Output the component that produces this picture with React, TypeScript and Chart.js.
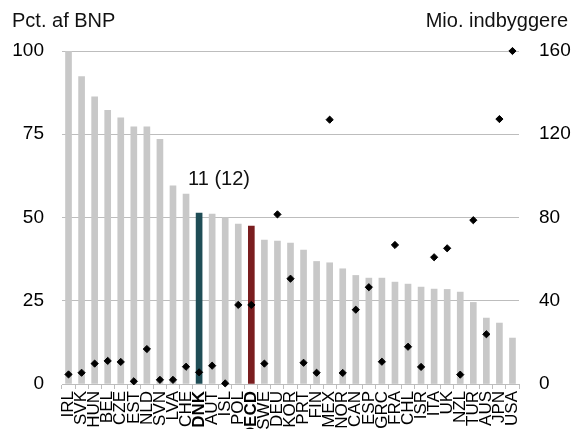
import React, { useEffect, useRef } from "react";
import { Chart, registerables } from "chart.js";

Chart.register(...registerables);

const categories = ["IRL","SVK","HUN","BEL","CZE","EST","NLD","SVN","LVA","CHE","DNK","AUT","ISL","POL","OECD","SWE","DEU","KOR","PRT","FIN","MEX","NOR","CAN","ESP","GRC","FRA","CHL","ISR","ITA","UK","NZL","TUR","AUS","JPN","USA"];
const shareOfGdp = [100, 92.3, 86.2, 82.2, 79.9, 77.2, 77.2, 73.5, 59.5, 57.0, 51.3, 51.0, 50.0, 48.0, 47.4, 43.2, 42.9, 42.3, 40.2, 36.8, 36.4, 34.6, 32.6, 31.8, 31.8, 30.6, 30.0, 29.1, 28.5, 28.4, 27.6, 24.5, 19.8, 18.3, 13.8];
const populationMio = [4.6, 5.4, 9.8, 11.1, 10.6, 1.3, 16.8, 2.0, 2.0, 8.3, 5.6, 8.8, 0.3, 38, 38, 9.8, 81.5, 50.6, 10.2, 5.4, 127, 5.3, 35.7, 46.5, 10.7, 66.8, 17.9, 8.2, 60.9, 65.2, 4.5, 78.7, 23.9, 127.3, 160];
const leftTitle = "Pct. af BNP";
const rightTitle = "Mio. indbyggere";
const dnkNote = "11 (12)";
const boldLabels = ["DNK", "OECD"];

const FONT = "'Liberation Sans', Arial, sans-serif";
const GRAY = "#c8c8c8";
const TEAL = "#1f4d56";
const RED = "#7a1d1f";
const GRID = "#bdbdbd";

export default function App() {
  const ref = useRef<HTMLCanvasElement>(null);
  useEffect(() => {
    const canvas = ref.current!;
    const textPlugin = {
      id: "texts",
      afterDatasetsDraw(chart: any) {
        const ctx = chart.ctx;
        ctx.save();
        ctx.fillStyle = "#111";
        ctx.font = `20px ${FONT}`;
        ctx.textBaseline = "alphabetic";
        ctx.textAlign = "left";
        ctx.fillText(leftTitle, 12, 27);
        ctx.textAlign = "right";
        ctx.fillText(rightTitle, 568, 27);
        const i = categories.indexOf("DNK");
        const x = chart.scales.x.getPixelForValue(i);
        const y = chart.scales.y.getPixelForValue(shareOfGdp[i]);
        ctx.textAlign = "left";
        ctx.fillText(dnkNote, x - 11, y - 28);
        ctx.restore();
      },
    };
    const chart = new Chart(canvas, {
      type: "bar",
      data: {
        labels: categories,
        datasets: [
          {
            type: "line",
            data: populationMio,
            yAxisID: "y2",
            showLine: false,
            pointStyle: "rectRot",
            pointRadius: 3.6,
            pointBorderWidth: 1,
            pointBackgroundColor: "#000",
            pointBorderColor: "#000",
            clip: false,
            order: 0,
          } as any,
          {
            type: "bar",
            data: shareOfGdp,
            yAxisID: "y",
            backgroundColor: categories.map((c) => (c === "DNK" ? TEAL : c === "OECD" ? RED : GRAY)),
            barThickness: 6,
            order: 1,
          },
        ],
      },
      options: {
        responsive: false,
        animation: false,
        layout: { padding: { top: 51, left: 0, right: 0, bottom: 0 } },
        plugins: { legend: { display: false }, tooltip: { enabled: false } },
        scales: {
          x: {
            offset: true,
            grid: { display: true, drawOnChartArea: false, drawTicks: true, tickLength: 5, color: GRID, offset: true },
            border: { display: true, color: GRID, width: 1 },
            ticks: {
              autoSkip: false,
              minRotation: 90,
              maxRotation: 90,
              padding: 2,
              color: "#000",
              font: (c: any) => ({
                family: FONT,
                size: 17,
                weight: boldLabels.includes(categories[c.index]) ? "bold" : "normal",
              }),
            },
            afterFit: (s: any) => { s.height = 76; },
          },
          y: {
            position: "left",
            min: 0,
            max: 100,
            ticks: { stepSize: 25, padding: 18, color: "#000", font: { family: FONT, size: 19 } },
            grid: { color: GRID, drawTicks: false, lineWidth: 1 },
            border: { display: false },
            afterFit: (s: any) => { s.width = 62; },
          },
          y2: {
            position: "right",
            min: 0,
            max: 160,
            ticks: { stepSize: 40, padding: 20, color: "#000", font: { family: FONT, size: 19 } },
            grid: { display: false, drawTicks: false },
            border: { display: false },
            afterFit: (s: any) => { s.width = 57; },
          },
        },
      },
      plugins: [textPlugin],
    });
    return () => chart.destroy();
  }, []);
  return (
    <div style={{ position: "fixed", left: 0, top: 0, width: 576, height: 429, overflow: "hidden", background: "#fff" }}>
      <canvas ref={ref} width={576} height={460} style={{ display: "block" }} />
    </div>
  );
}
